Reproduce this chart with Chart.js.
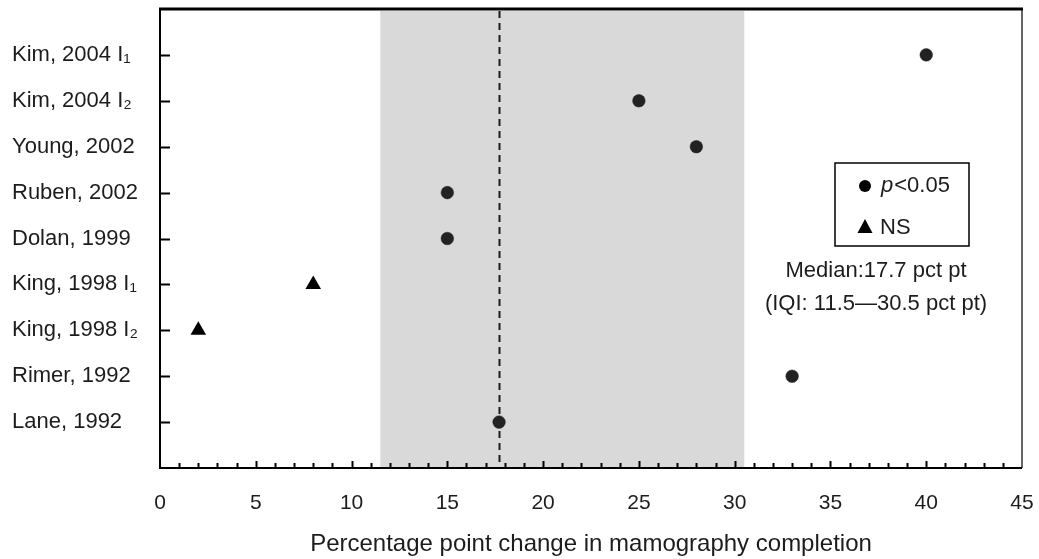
<!DOCTYPE html>
<html>
<head>
<meta charset="utf-8">
<script src="https://cdn.jsdelivr.net/npm/chart.js@4/dist/chart.umd.min.js"></script>
<style>
  html, body { margin: 0; padding: 0; background: #fff; }
  #wrap { width: 1039px; height: 559px; }
</style>
</head>
<body>
<div id="wrap"><canvas id="changeChart"></canvas></div>
<script>
// Studies, top to bottom
const categories = ['Kim, 2004 I\u2081', 'Kim, 2004 I\u2082', 'Young, 2002', 'Ruben, 2002', 'Dolan, 1999',
  'King, 1998 I\u2081', 'King, 1998 I\u2082', 'Rimer, 1992', 'Lane, 1992'];
// Percentage point change per study
const changeValues = [40, 25, 28, 15, 15, 8, 2, 33, 17.7];
// true = p<0.05 (circle), false = NS (triangle)
const significant = [true, true, true, true, true, false, false, true, true];

const xMin = 0;
const xMax = 45;
const xStep = 5;
const medianValue = 17.7;
const iqrLow = 11.5;
const iqrHigh = 30.5;

const legendLabels = ['p<0.05', 'NS'];
const summaryLines = ['Median:17.7 pct pt', '(IQI: 11.5\u201430.5 pct pt)'];
const xTitle = 'Percentage point change in mamography completion';

const FONT = '"Liberation Sans", Arial, sans-serif';
const INK = '#1c1c1c';

// row position: first study at the top
const rowPos = (i) => categories.length - i;

const sigPoints = [];
const nsPoints = [];
changeValues.forEach((v, i) => {
  const pt = { x: v, y: rowPos(i) };
  if (significant[i]) sigPoints.push(pt); else nsPoints.push(pt);
});

// Shaded IQR band, median line, frame, inner ticks, legend box
const decorations = {
  id: 'decorations',
  beforeDatasetsDraw(chart) {
    const { ctx, chartArea: a, scales: { x } } = chart;
    ctx.save();
    ctx.fillStyle = '#d9d9d9';
    const x1 = x.getPixelForValue(iqrLow);
    const x2 = x.getPixelForValue(iqrHigh);
    ctx.fillRect(x1, a.top + 2, x2 - x1, a.bottom - a.top - 2);

    const xm = Math.round(x.getPixelForValue(medianValue)) + 0.5;
    ctx.strokeStyle = INK;
    ctx.lineWidth = 2;
    ctx.setLineDash([7, 5]);
    ctx.beginPath();
    ctx.moveTo(xm, a.top + 2);
    ctx.lineTo(xm, a.bottom);
    ctx.stroke();
    ctx.restore();
  },
  afterDraw(chart) {
    const { ctx, chartArea: a, scales: { x, y } } = chart;
    ctx.save();

    // frame
    ctx.strokeStyle = '#666';
    ctx.lineWidth = 2;
    ctx.beginPath();
    ctx.moveTo(a.right, a.top);
    ctx.lineTo(a.right, a.bottom);
    ctx.stroke();
    ctx.strokeStyle = '#000';
    ctx.lineWidth = 3;
    ctx.beginPath();
    ctx.moveTo(a.left - 1, a.top);
    ctx.lineTo(a.right + 1, a.top);
    ctx.stroke();
    ctx.lineWidth = 2;
    ctx.beginPath();
    ctx.moveTo(a.left, a.top);
    ctx.lineTo(a.left, a.bottom);
    ctx.lineTo(a.right, a.bottom);
    ctx.stroke();

    // y ticks pointing inward
    ctx.lineWidth = 2;
    categories.forEach((c, i) => {
      const py = Math.round(y.getPixelForValue(rowPos(i))) + 0.5;
      ctx.beginPath();
      ctx.moveTo(a.left, py);
      ctx.lineTo(a.left + 10, py);
      ctx.stroke();
    });

    // x ticks: minor every 1, major every 5
    for (let v = xMin + 1; v < xMax; v++) {
      const px = Math.round(x.getPixelForValue(v)) + 0.5;
      const len = v % xStep === 0 ? 7 : 5;
      ctx.beginPath();
      ctx.moveTo(px, a.bottom);
      ctx.lineTo(px, a.bottom - len);
      ctx.stroke();
    }

    // legend box
    const bx = 835, by = 163, bw = 134, bh = 83;
    ctx.lineWidth = 1.5;
    ctx.strokeStyle = '#000';
    ctx.strokeRect(bx, by, bw, bh);

    ctx.fillStyle = '#000';
    ctx.beginPath();
    ctx.arc(865, 186, 6, 0, Math.PI * 2);
    ctx.fill();
    ctx.beginPath();
    ctx.moveTo(865, 219);
    ctx.lineTo(872.5, 233);
    ctx.lineTo(857.5, 233);
    ctx.closePath();
    ctx.fill();

    ctx.fillStyle = INK;
    ctx.textBaseline = 'middle';
    ctx.textAlign = 'left';
    ctx.font = 'italic 22px ' + FONT;
    const pLabel = legendLabels[0].slice(0, 1);
    ctx.fillText(pLabel, 881, 186);
    const pw = ctx.measureText(pLabel).width;
    ctx.font = '22px ' + FONT;
    ctx.fillText(legendLabels[0].slice(1), 881 + pw + 1, 186);
    ctx.fillText(legendLabels[1], 880, 228);

    ctx.textAlign = 'center';
    ctx.fillText(summaryLines[0], 876, 271);
    ctx.fillText(summaryLines[1], 876, 304);
    ctx.restore();
  }
};

const ctx = document.getElementById('changeChart').getContext('2d');
const chart = new Chart(ctx, {
  type: 'scatter',
  data: {
    datasets: [{
      label: 'p<0.05',
      data: sigPoints,
      pointStyle: 'circle',
      pointRadius: 6.3,
      backgroundColor: '#222',
      borderColor: '#222',
      borderWidth: 0.5
    }, {
      label: 'NS',
      data: nsPoints,
      pointStyle: 'triangle',
      pointRadius: 9,
      backgroundColor: '#000',
      borderColor: '#000',
      borderWidth: 0
    }]
  },
  options: {
    responsive: true,
    maintainAspectRatio: false,
    animation: false,
    layout: { padding: { left: 12, top: 9, right: 17, bottom: 0 } },
    plugins: {
      legend: { display: false },
      tooltip: { enabled: false }
    },
    scales: {
      x: {
        type: 'linear',
        min: xMin,
        max: xMax,
        afterFit: (s) => { s.height = 91; s.paddingLeft = 0; s.paddingRight = 0; },
        border: { display: false },
        grid: { display: false, drawTicks: false },
        ticks: {
          stepSize: xStep,
          padding: 23,
          color: INK,
          font: { family: FONT, size: 21 },
          maxRotation: 0
        },
        title: {
          display: true,
          text: xTitle,
          color: INK,
          font: { family: FONT, size: 24 },
          padding: { top: 0, bottom: 0 }
        }
      },
      y: {
        type: 'linear',
        min: 0,
        max: categories.length + 1,
        afterFit: (s) => { s.width = 148; s.paddingTop = 0; s.paddingBottom = 0; },
        afterBuildTicks: (s) => {
          s.ticks = categories.map((c, i) => ({ value: rowPos(i) }));
        },
        border: { display: false },
        grid: { display: false, drawTicks: false },
        ticks: {
          crossAlign: 'far',
          color: INK,
          font: { family: FONT, size: 22 },
          callback: (v) => categories[categories.length - v] || ''
        }
      }
    }
  },
  plugins: [decorations]
});
</script>
</body>
</html>
